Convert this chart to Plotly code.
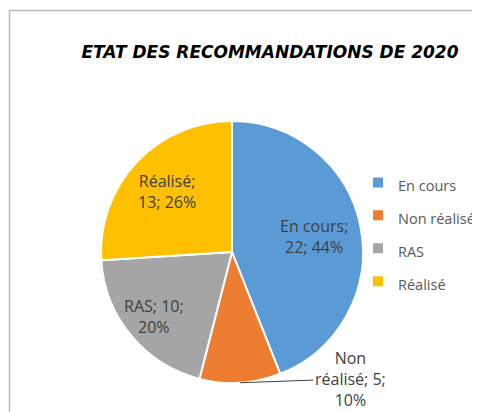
import plotly.graph_objects as go
import math

# ---- data ----
categories = ["En cours", "Non réalisé", "RAS", "Réalisé"]
values = [22, 5, 10, 13]
colors = ["#5B9BD5", "#ED7D31", "#A5A5A5", "#FFC000"]
title_text = "ETAT DES RECOMMANDATIONS DE 2020"

W, H = 480, 412
OFF = 8  # the page body margin shifts the figure by 8px
cx, cy, r = 232 - OFF, 252 - OFF, 131  # pie centre/radius in figure pixels

total = sum(values)
pcts = [round(v * 100 / total) for v in values]

# label texts (line breaks as in the original)
label_fmt = ["{c};<br>{v}; {p}%", "Non<br>réalisé; {v};<br>{p}%", "{c}; {v};<br>{p}%", "{c};<br>{v}; {p}%"]
texts = [f.format(c=c, v=v, p=p) for f, c, v, p in zip(label_fmt, categories, values, pcts)]
radial = [0.64, 1.0, 0.77, 0.68]  # label distance from centre, fraction of radius
outside_offset = [None, (110, -4), None, None]  # label offset (px) for outside labels

legend_labels = [f"<span style='font-size:14.5px'>{c}</span>" for c in categories]

dom_x = [(cx - r) / W, (cx + r) / W]
dom_y = [(H - cy - r) / H, (H - cy + r) / H]

fig = go.Figure(go.Pie(
    labels=legend_labels,
    values=values,
    textinfo="none",
    sort=False,
    direction="clockwise",
    rotation=0,
    marker=dict(colors=colors, line=dict(color="white", width=2)),
    domain=dict(x=dom_x, y=dom_y),
    hoverinfo="skip",
))

# data labels placed at each slice's mid-angle
cum = 0
for i, v in enumerate(values):
    mid = (cum + v / 2) / total * 2 * math.pi
    cum += v
    px = cx + radial[i] * r * math.sin(mid)
    py = cy - radial[i] * r * math.cos(mid)
    font = dict(family="Open Sans", size=16, color="#404040")
    if outside_offset[i] is None:
        fig.add_annotation(x=px / W, y=1 - py / H, xref="paper", yref="paper",
                           text=texts[i], showarrow=False, font=font,
                           xanchor="center", yanchor="middle")
    else:
        dx, dy = outside_offset[i]
        fig.add_annotation(x=px / W, y=1 - py / H, xref="paper", yref="paper",
                           ax=dx, ay=dy, text=texts[i], showarrow=True,
                           arrowhead=0, arrowwidth=1, arrowcolor="#404040",
                           font=font, xanchor="center", yanchor="middle")

fig.update_layout(
    width=W, height=H,
    margin=dict(l=0, r=0, t=0, b=0, autoexpand=False),
    paper_bgcolor="white",
    title=dict(text=f"<b><i>{title_text}</i></b>", x=(270 - OFF) / W, xanchor="center",
               y=1 - (52 - OFF) / H, yanchor="middle",
               font=dict(family="DejaVu Sans", size=17, color="#000000")),
    legend=dict(x=350 / W, xanchor="left", y=1 - 153 / H, yanchor="top",
                font=dict(family="Open Sans", size=23, color="#595959"),
                itemwidth=30, bgcolor="rgba(0,0,0,0)"),
    shapes=[dict(type="rect", xref="paper", yref="paper",
                 x0=(9.5 - OFF) / W, x1=1.2, y0=-0.2, y1=1 - (10.5 - OFF) / H,
                 line=dict(color="#BBBBBB", width=1.5), layer="below")],
)

fig.write_html("out.html")
